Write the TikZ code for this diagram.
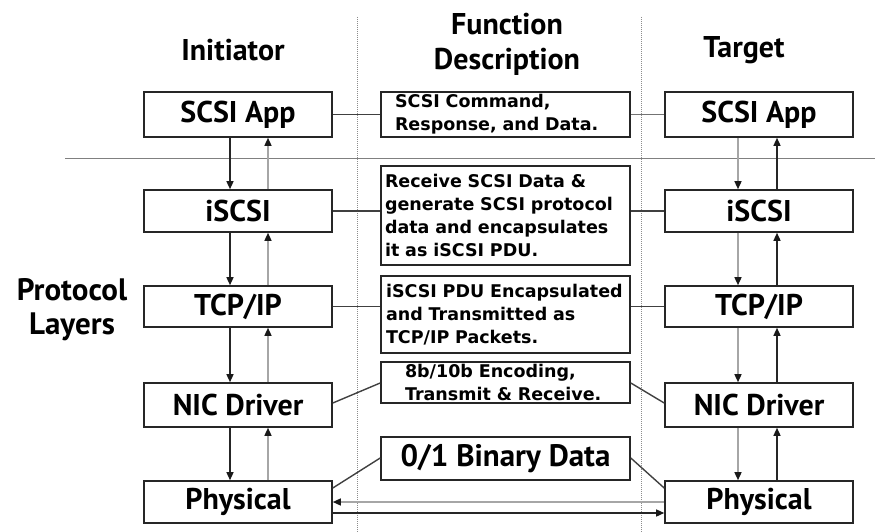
\documentclass[tikz,border=0pt]{standalone}
\usepackage{fontspec}
\setmainfont{PT Sans}
\newfontfamily\descfont{DejaVu Sans}
\usetikzlibrary{arrows.meta}

\begin{document}
\begin{tikzpicture}[x=1pt, y=-1pt,
  layer/.style={draw=black!85, line width=1.6pt, minimum width=188pt, inner sep=0pt,
    font=\bfseries\fontsize{30}{32}\selectfont},
  desc/.style={draw=black!85, line width=1.6pt, inner ysep=0pt, align=left,
    font=\descfont\bfseries\fontsize{17.5}{23}\selectfont},
  heading/.style={font=\bfseries\fontsize{30}{35}\selectfont, align=center},
  link/.style={draw=black!75, line width=1.4pt},
  tip/.style={-{Triangle[width=7pt,length=8pt,color=black!90]}},
  darkarrow/.style={tip, draw=black!85, line width=1.4pt},
  lightarrow/.style={tip, draw=black!35, line width=1.4pt},
  divider/.style={draw=black!45, line width=1pt, densely dotted}
]
\useasboundingbox (0,0) rectangle (875,532);

% column dividers and the protocol-layer separator
\coordinate (d1top) at (357,17);  \coordinate (d1bot) at (357,532);
\coordinate (d2top) at (641,17);  \coordinate (d2bot) at (641,532);
\coordinate (sepL) at (65,158);   \coordinate (sepR) at (875,158);
\draw[divider] (d1top) -- (d1bot);
\draw[divider] (d2top) -- (d2bot);
\draw[draw=black!50, line width=1pt] (sepL) -- (sepR);

% headings
\node[heading] (hinit) at (233,50) {Initiator};
\node[heading] (hfunc) at (507,44) {Function\\Description};
\node[heading] (htarg) at (744,50) {Target};
\node[heading, font=\bfseries\fontsize{31}{34}\selectfont] (hprot) at (72,310) {Protocol\\Layers};

% initiator stack
\node[layer, minimum height=45pt] (lapp) at (238,114.5) {SCSI App};
\node[layer, minimum height=42pt] (liscsi) at (238,211) {iSCSI};
\node[layer, minimum height=41pt] (ltcp) at (238,306.5) {TCP/IP};
\node[layer, minimum height=44pt] (lnic) at (238,405) {NIC Driver};
\node[layer, minimum height=42pt] (lphy) at (238,502) {Physical};

% target stack
\node[layer, minimum height=45pt] (rapp) at (759,114.5) {SCSI App};
\node[layer, minimum height=42pt] (riscsi) at (759,211) {iSCSI};
\node[layer, minimum height=41pt] (rtcp) at (759,306.5) {TCP/IP};
\node[layer, minimum height=44pt] (rnic) at (759,405) {NIC Driver};
\node[layer, minimum height=42pt] (rphy) at (759,502) {Physical};

% function descriptions
\node[desc, minimum height=45pt, inner xsep=14pt, text width=221pt] (cmd) at (505.5,114.5)
  {SCSI Command,\\Response, and Data.};
\node[desc, minimum height=99pt, inner xsep=4pt, text width=241pt] (recv) at (505.5,215.5)
  {Receive SCSI Data \&\\generate SCSI protocol\\data and encapsulates\\it as iSCSI PDU.};
\node[desc, minimum height=77pt, inner xsep=5pt, text width=239pt] (pdu) at (505.5,314.5)
  {iSCSI PDU Encapsulated\\and Transmitted as\\TCP/IP Packets.};
\node[desc, minimum height=41pt, inner xsep=24pt, text width=201pt] (enc) at (505.5,382.5)
  {8b/10b Encoding,\\Transmit \& Receive.};
\node[desc, minimum height=43pt, minimum width=249pt, inner xsep=0pt, align=center,
  font=\bfseries\fontsize{31}{33}\selectfont] (bin) at (505.5,458.5) {0/1 Binary Data};

% arrow columns
\coordinate (lc1) at (230,0); \coordinate (lc2) at (268,0);
\coordinate (rc1) at (738,0); \coordinate (rc2) at (777,0);

% initiator: down (dark) and up (light)
\draw[darkarrow] (lapp.south -| lc1) -- (liscsi.north -| lc1);
\draw[darkarrow] (liscsi.south -| lc1) -- (ltcp.north -| lc1);
\draw[darkarrow] (ltcp.south -| lc1) -- (lnic.north -| lc1);
\draw[darkarrow] (lnic.south -| lc1) -- (lphy.north -| lc1);
\draw[lightarrow] (liscsi.north -| lc2) -- (lapp.south -| lc2);
\draw[lightarrow] (ltcp.north -| lc2) -- (liscsi.south -| lc2);
\draw[lightarrow] (lnic.north -| lc2) -- (ltcp.south -| lc2);
\draw[lightarrow] (lphy.north -| lc2) -- (lnic.south -| lc2);

% target: down (light) and up (dark)
\draw[lightarrow] (rapp.south -| rc1) -- (riscsi.north -| rc1);
\draw[lightarrow] (riscsi.south -| rc1) -- (rtcp.north -| rc1);
\draw[lightarrow] (rtcp.south -| rc1) -- (rnic.north -| rc1);
\draw[lightarrow] (rnic.south -| rc1) -- (rphy.north -| rc1);
\draw[darkarrow] (riscsi.north -| rc2) -- (rapp.south -| rc2);
\draw[darkarrow] (rtcp.north -| rc2) -- (riscsi.south -| rc2);
\draw[darkarrow] (rnic.north -| rc2) -- (rtcp.south -| rc2);
\draw[darkarrow] (rphy.north -| rc2) -- (rnic.south -| rc2);

% physical link between the two sides
\coordinate (pl1) at (0,502); \coordinate (pl2) at (0,513);
\draw[lightarrow] (rphy.west |- pl1) -- (lphy.east |- pl1);
\draw[darkarrow] (lphy.east |- pl2) -- (rphy.west |- pl2);

% layer-to-description links
\draw[link] (lapp) -- (cmd);
\draw[link, draw=black!55] (cmd) -- (rapp);
\draw[link] (liscsi) -- (liscsi -| recv.west);
\draw[link] (riscsi -| recv.east) -- (riscsi);
\draw[link] (ltcp) -- (ltcp -| pdu.west);
\draw[link] (rtcp -| pdu.east) -- (rtcp);
\coordinate (y403) at (0,403); \coordinate (y383) at (0,383);
\coordinate (y488) at (0,488); \coordinate (y458) at (0,458);
\draw[link] (lnic.east |- y403) -- (enc.west |- y383);
\draw[link] (enc.east |- y383) -- (rnic.west |- y403);
\draw[link] (lphy.east |- y488) -- (bin.west |- y458);
\draw[link] (bin.east |- y458) -- (rphy.west |- y488);
\end{tikzpicture}
\end{document}
